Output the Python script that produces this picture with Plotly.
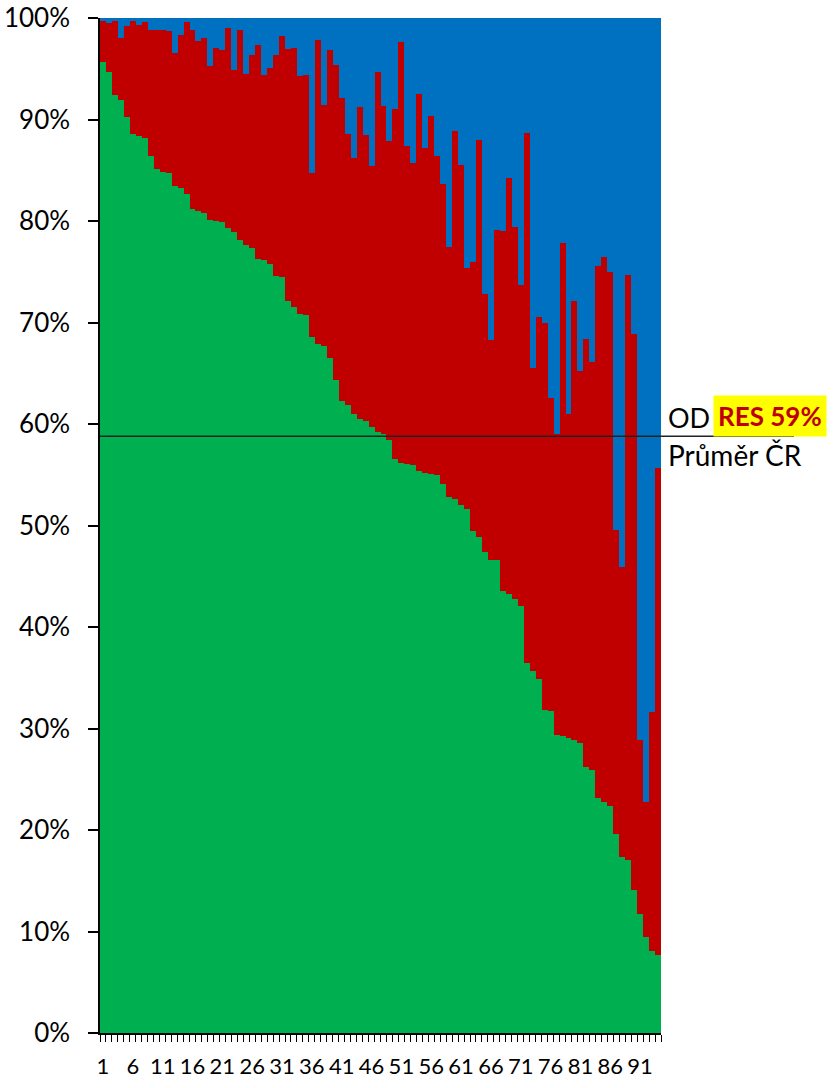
import plotly.graph_objects as go

categories = list(range(1, 95))

green = [95.7, 94.7, 92.4, 91.9, 90.2, 88.6, 88.4, 88.2, 86.4, 85.1,
         84.8, 84.7, 83.4, 83.3, 82.7, 81.2, 81.0, 80.8, 80.1, 80.0,
         79.9, 79.3, 78.9, 78.1, 77.6, 77.3, 76.3, 76.2, 75.8, 74.6,
         74.5, 72.1, 71.5, 70.8, 70.7, 68.6, 67.9, 67.7, 66.5, 64.3,
         62.3, 61.9, 61.0, 60.5, 60.3, 59.7, 59.2, 59.0, 58.4, 56.6,
         56.2, 56.1, 56.0, 55.4, 55.2, 55.1, 55.0, 54.1, 52.8, 52.6,
         52.0, 51.6, 49.5, 48.9, 47.4, 46.6, 46.6, 43.5, 43.3, 42.8,
         42.1, 36.5, 35.7, 34.9, 31.8, 31.7, 29.4, 29.3, 29.1, 28.9,
         28.6, 26.2, 25.9, 23.2, 22.8, 22.4, 19.6, 17.3, 17.0, 14.1,
         11.7, 9.5, 8.1, 7.7]

red = [4.0, 4.8, 7.3, 6.1, 9.0, 11.1, 10.9, 11.4, 12.4, 13.7,
       14.0, 14.0, 13.2, 15.0, 16.9, 17.6, 16.7, 17.2, 15.2, 17.0,
       16.9, 19.7, 16.0, 20.7, 16.9, 19.1, 21.0, 18.2, 19.3, 21.8,
       23.7, 24.8, 25.5, 23.5, 23.7, 16.1, 29.9, 23.7, 30.3, 31.1,
       29.8, 26.7, 25.2, 30.7, 28.2, 25.7, 35.5, 32.3, 29.5, 34.4,
       41.4, 31.3, 29.7, 37.1, 32.0, 35.2, 31.4, 29.5, 24.6, 36.3,
       33.5, 23.8, 26.5, 39.1, 25.4, 21.7, 32.5, 35.5, 40.9, 36.6,
       31.6, 52.2, 29.8, 35.6, 38.2, 30.9, 29.6, 48.5, 31.9, 43.2,
       36.6, 42.2, 40.2, 52.4, 53.7, 52.6, 30.0, 28.6, 57.7, 54.8,
       17.2, 13.3, 23.5, 48.0]

blue = [0.3, 0.5, 0.3, 2.0, 0.8, 0.3, 0.7, 0.4, 1.2, 1.2,
        1.2, 1.3, 3.4, 1.7, 0.4, 1.2, 2.3, 2.0, 4.7, 3.0,
        3.2, 1.0, 5.1, 1.2, 5.5, 3.6, 2.7, 5.6, 4.9, 3.6,
        1.8, 3.1, 3.0, 5.7, 5.6, 15.3, 2.2, 8.6, 3.2, 4.6,
        7.9, 11.4, 13.8, 8.8, 11.5, 14.6, 5.3, 8.7, 12.1, 9.0,
        2.4, 12.6, 14.3, 7.5, 12.8, 9.7, 13.6, 16.4, 22.6, 11.1,
        14.5, 24.6, 24.0, 12.0, 27.2, 31.7, 20.9, 21.0, 15.8, 20.6,
        26.3, 11.3, 34.5, 29.5, 30.0, 37.4, 41.0, 22.2, 39.0, 27.9,
        34.8, 31.6, 33.9, 24.4, 23.5, 25.0, 50.4, 54.1, 25.3, 31.1,
        71.1, 77.2, 68.4, 44.3]

x_tick_labels = [str(v) for v in range(1, 95, 5)]
avg_value = 58.8
avg_label_top = "OD"
avg_label_res = "RES 59%"
avg_label_bottom = "Průměr ČR"

FONT = "Lato"

fig = go.Figure()
fig.add_trace(go.Bar(x=categories, y=green, marker=dict(color="#00B050", line=dict(width=0)), name="green"))
fig.add_trace(go.Bar(x=categories, y=red, marker=dict(color="#C00000", line=dict(width=0)), name="red"))
fig.add_trace(go.Bar(x=categories, y=blue, marker=dict(color="#0070C0", line=dict(width=0)), name="blue"))

fig.update_layout(
    barmode="stack",
    bargap=0,
    width=833,
    height=1088,
    margin=dict(l=100, r=172, t=18, b=55, autoexpand=False),
    plot_bgcolor="white",
    paper_bgcolor="white",
    showlegend=False,
    font=dict(family=FONT, color="black"),
)

fig.update_xaxes(
    range=[0.5, 94.5],
    tickmode="array",
    tickvals=[int(t) for t in x_tick_labels],
    ticktext=x_tick_labels,
    ticks="",
    tickfont=dict(size=22, family=FONT, color="black"),
    ticklabelstandoff=13,
    showline=True,
    linecolor="black",
    linewidth=1.5,
    showgrid=False,
    zeroline=False,
    automargin=False,
    minor=dict(ticks="outside", tickmode="linear", tick0=0.5, dtick=1,
               ticklen=7, tickcolor="black", tickwidth=1, showgrid=False),
)

fig.update_yaxes(
    range=[0, 100],
    dtick=10,
    ticksuffix="%",
    ticks="outside",
    ticklen=10,
    tickcolor="black",
    tickwidth=1.5,
    tickfont=dict(size=26, family=FONT, color="black"),
    ticklabelstandoff=13,
    ticklabeloverflow="allow",
    showline=True,
    linecolor="black",
    linewidth=1.5,
    showgrid=False,
    zeroline=False,
    automargin=False,
)

fig.add_shape(type="line", xref="paper", yref="y", x0=0, x1=1.237,
              y0=avg_value, y1=avg_value, line=dict(color="#222222", width=1.5), layer="above")

fig.add_annotation(xref="paper", yref="y", x=1.009, y=60.6, xanchor="left", yanchor="middle",
                   text=avg_label_top, showarrow=False, font=dict(size=27, family=FONT, color="black"))
fig.add_annotation(xref="paper", yref="y", x=1.093, y=60.8, xanchor="left", yanchor="middle",
                   text="<b>" + avg_label_res + "</b>", showarrow=False, bgcolor="#FFFF00", borderpad=4,
                   font=dict(size=26, family=FONT, color="#C00000"))
fig.add_annotation(xref="paper", yref="y", x=1.009, y=56.9, xanchor="left", yanchor="middle",
                   text=avg_label_bottom, showarrow=False, font=dict(size=28, family=FONT, color="black"))

fig.write_html("out.html",
               config={"displayModeBar": False},
               post_script="document.body.style.margin='0px';document.body.style.overflow='hidden';")
